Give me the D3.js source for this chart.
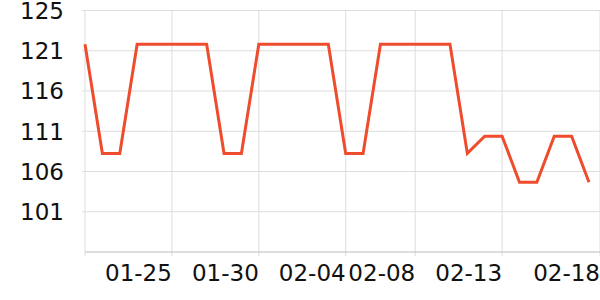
<html>

<head>
    <script src="https://cdn.jsdelivr.net/npm/d3@7"></script>
    <style>
        body { margin: 0; background: white; }
        text { font-family: "DejaVu Sans", sans-serif; }
    </style>
</head>

<body>
    <svg id="container" width="600" height="300">
        <g id="grid" />
        <g id="body" />
        <g id="axes" />
    </svg>
</body>
<script>
    let dates = ["01-20", "01-21", "01-22", "01-23", "01-24", "01-25", "01-26", "01-27", "01-28", "01-29",
        "01-30", "01-31", "02-01", "02-02", "02-03", "02-04", "02-05", "02-06", "02-07", "02-08",
        "02-09", "02-10", "02-11", "02-12", "02-13", "02-14", "02-15", "02-16", "02-17", "02-18"]
    let values = [121.3, 108, 108, 121.3, 121.3, 121.3, 121.3, 121.3, 108, 108,
        121.3, 121.3, 121.3, 121.3, 121.3, 108, 108, 121.3, 121.3, 121.3,
        121.3, 121.3, 108, 110.1, 110.1, 104.5, 104.5, 110.1, 110.1, 104.5]
    let xTicks = ["01-25", "01-30", "02-04", "02-08", "02-13", "02-18"]
    let yTickValues = [125.4, 120.5, 115.6, 110.7, 105.8, 100.9]
    let yTickLabels = ["125", "121", "116", "111", "106", "101"]
    let yDomain = [96, 125.4]

    let plotLeft = 85, plotRight = 589, plotTop = 10.5, plotBottom = 252, edge = 600

    let x = d3.scalePoint().domain(dates).range([plotLeft, plotRight])
    let y = d3.scaleLinear().domain(yDomain).range([plotBottom, plotTop])

    // last tick sits on the right edge of the picture
    let tickPos = d => d === xTicks[xTicks.length - 1] ? edge : x(d)

    let grid = d3.select("#grid")
    grid.selectAll(".hgrid").data(yTickValues)
        .enter().append("line")
        .attr("class", "hgrid")
        .attr("x1", plotLeft - 3).attr("x2", edge)
        .attr("y1", d => y(d)).attr("y2", d => y(d))
        .attr("stroke", "#ddd")

    grid.selectAll(".vgrid").data(xTicks)
        .enter().append("line")
        .attr("class", "vgrid")
        .attr("x1", d => tickPos(d)).attr("x2", d => tickPos(d))
        .attr("y1", plotTop).attr("y2", plotBottom + 4)
        .attr("stroke", "#ddd")

    grid.append("line")
        .attr("x1", plotLeft).attr("x2", plotLeft)
        .attr("y1", plotTop).attr("y2", plotBottom + 4)
        .attr("stroke", "#ddd")

    let line = d3.line()
        .x((d, i) => x(dates[i]))
        .y(d => y(d))

    d3.select("#body").append("path")
        .datum(values)
        .attr("d", line)
        .attr("fill", "none")
        .attr("stroke", "#ef4b2d")
        .attr("stroke-width", 3)
        .attr("stroke-linejoin", "miter")

    let axes = d3.select("#axes")
    axes.append("line")
        .attr("x1", plotLeft).attr("x2", edge)
        .attr("y1", plotBottom).attr("y2", plotBottom)
        .attr("stroke", "#bbb")

    axes.selectAll(".ylab").data(yTickValues)
        .enter().append("text")
        .attr("class", "ylab")
        .attr("x", 64)
        .attr("y", d => y(d))
        .attr("dy", "0.36em")
        .attr("text-anchor", "end")
        .attr("font-size", 23)
        .attr("fill", "#111")
        .text((d, i) => yTickLabels[i])

    axes.selectAll(".xlab").data(xTicks)
        .enter().append("text")
        .attr("class", "xlab")
        .attr("x", d => tickPos(d))
        .attr("y", 273)
        .attr("dy", "0.36em")
        .attr("text-anchor", "end")
        .attr("font-size", 23)
        .attr("fill", "#111")
        .text(d => d)

</script>

</html>
